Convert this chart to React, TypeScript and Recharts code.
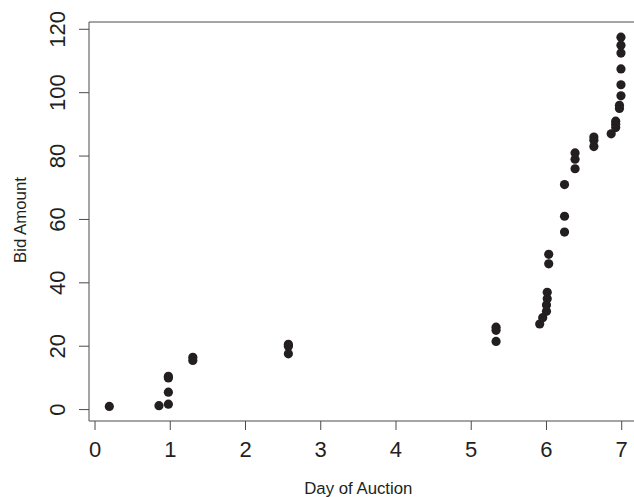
import React from 'react';
import {
  ScatterChart,
  Scatter,
  XAxis,
  YAxis,
  ReferenceLine,
  Label,
} from 'recharts';

// bids: day of auction vs bid amount
const days = [
  0.19, 0.85, 0.975, 0.975, 0.975, 0.975, 1.3, 1.3, 2.57, 2.57, 2.57,
  5.33, 5.33, 5.33, 5.91, 5.95, 6.0, 6.0, 6.01, 6.01, 6.03, 6.03,
  6.24, 6.24, 6.24, 6.38, 6.38, 6.38, 6.63, 6.63, 6.63, 6.86,
  6.92, 6.92, 6.92, 6.97, 6.97, 6.99, 6.99, 6.99, 6.99, 6.99, 6.99,
];
const bids = [
  1, 1.25, 1.7, 5.5, 10, 10.5, 15.5, 16.5, 17.6, 20, 20.6,
  21.5, 25, 26, 27, 29, 31, 33, 35, 37, 46, 49,
  56, 61, 71, 76, 79, 81, 83, 85, 86, 87,
  89, 90, 91, 95, 96, 99, 102.5, 107.5, 112.5, 115, 117.5,
];
const xTicks = [0, 1, 2, 3, 4, 5, 6, 7];
const yTicks = [0, 20, 40, 60, 80, 100, 120];

const data = days.map((d, i) => ({ day: d, bid: bids[i] }));

const AXIS = '#4a4a4a';
const INK = '#231f20';
const FONT = '"Liberation Sans", Arial, sans-serif';

const XTick = (props: any) => {
  const { x, y, payload } = props;
  return (
    <text x={x} y={y} dy={25} textAnchor="middle" fill={INK} fontSize={22} fontFamily={FONT}>
      {payload.value}
    </text>
  );
};

const YTick = (props: any) => {
  const { y, payload } = props;
  const bx = 65;
  return (
    <text
      x={bx}
      y={y}
      transform={`rotate(-90, ${bx}, ${y})`}
      textAnchor="middle"
      fill={INK}
      fontSize={22}
      fontFamily={FONT}
    >
      {payload.value}
    </text>
  );
};

const dot = (props: any) => <circle cx={props.cx} cy={props.cy} r={4.6} fill={INK} />;

export default function App() {
  return (
    <div
      style={{
        position: 'absolute',
        left: 0,
        top: 0,
        width: 634,
        height: 497,
        overflow: 'hidden',
        background: '#fff',
      }}
    >
      <ScatterChart width={640} height={497} margin={{ top: 22, right: 0, bottom: 0, left: 0 }}>
        <XAxis
          type="number"
          dataKey="day"
          domain={[-0.08, 7.243]}
          ticks={xTicks}
          allowDataOverflow
          height={76}
          tickSize={9}
          tick={<XTick />}
          stroke={AXIS}
          tickLine={{ stroke: AXIS }}
        >
          <Label
            content={(p: any) => {
              const vb = p.viewBox;
              return (
                <text
                  x={95 + (7 * 75.24) / 2}
                  y={vb.y + 73}
                  textAnchor="middle"
                  fill={INK}
                  fontSize={16.8}
                  fontFamily={FONT}
                >
                  Day of Auction
                </text>
              );
            }}
          />
        </XAxis>
        <YAxis
          type="number"
          dataKey="bid"
          domain={[-3.6, 122.3]}
          ticks={yTicks}
          allowDataOverflow
          width={89}
          tickSize={10}
          tick={<YTick />}
          stroke={AXIS}
          tickLine={{ stroke: AXIS }}
        >
          <Label
            content={(p: any) => {
              const cy = 220;
              const cx = 26;
              return (
                <text
                  x={cx}
                  y={cy}
                  transform={`rotate(-90, ${cx}, ${cy})`}
                  textAnchor="middle"
                  fill={INK}
                  fontSize={16.8}
                  fontFamily={FONT}
                >
                  Bid Amount
                </text>
              );
            }}
          />
        </YAxis>
        <ReferenceLine y={122.3} stroke={AXIS} />
        <Scatter data={data} shape={dot} isAnimationActive={false} />
      </ScatterChart>
    </div>
  );
}
